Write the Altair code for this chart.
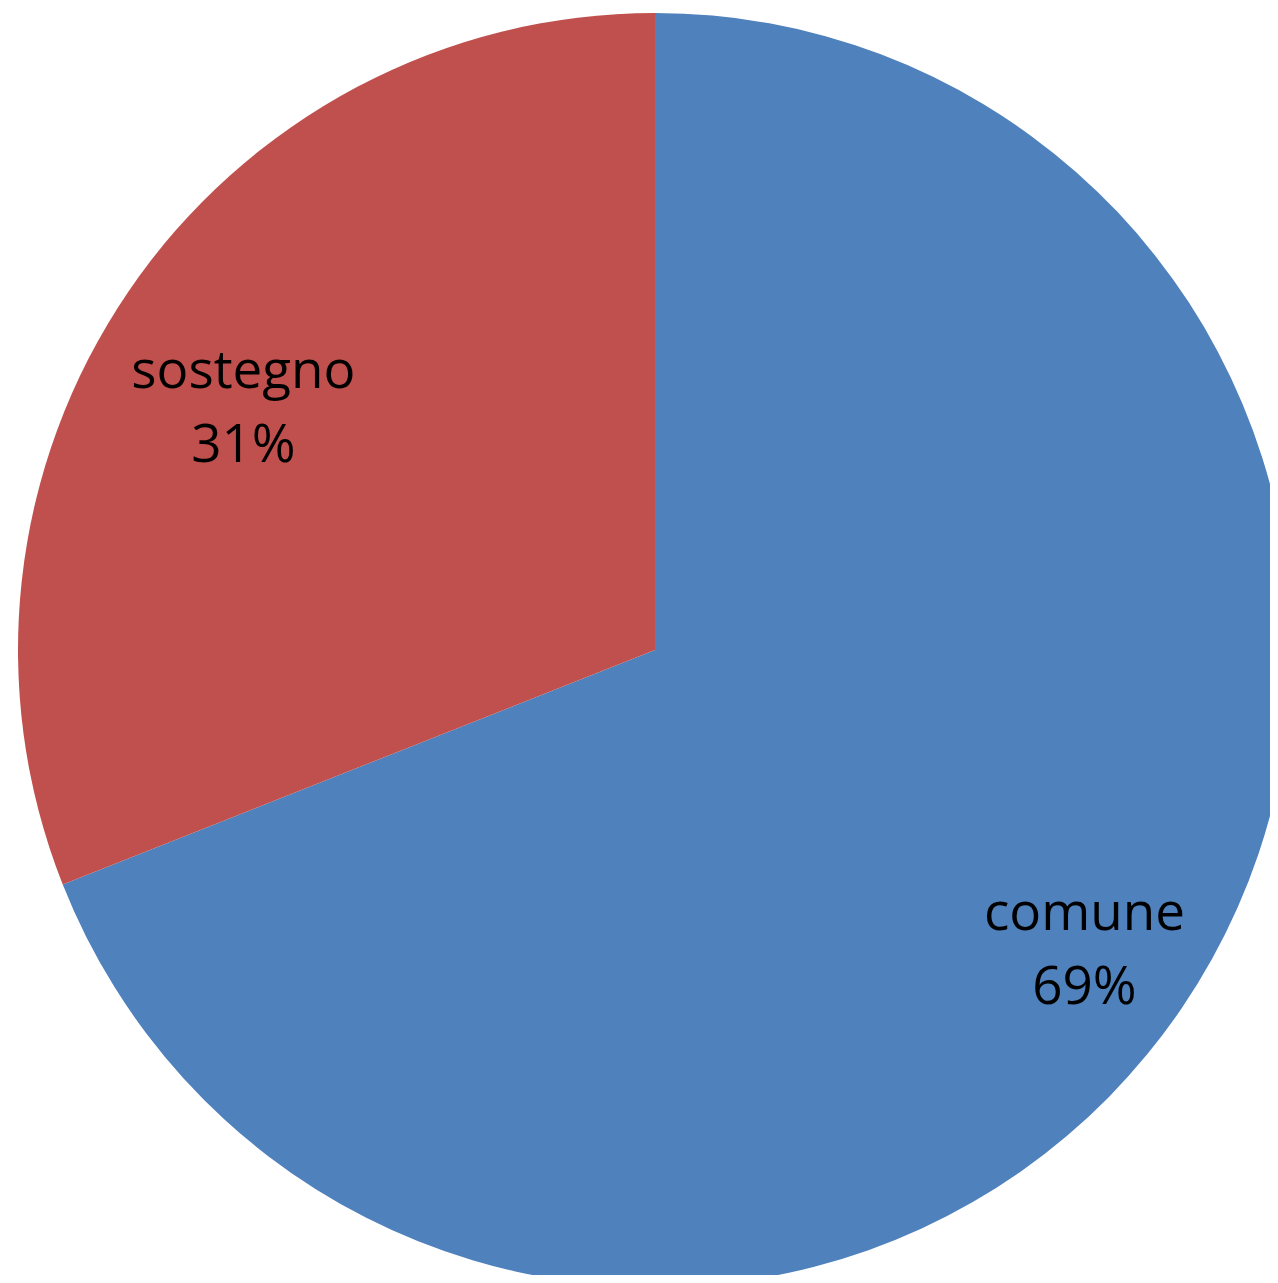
import altair as alt
import pandas as pd

categories = ["comune", "sostegno"]
values = [69, 31]
colors = ["#4F81BD", "#C0504D"]

df = pd.DataFrame({"categoria": categories, "valore": values, "ordine": [0, 1]})

CX, CY, R = 647, 642, 637

base = alt.Chart(df).encode(
    theta=alt.Theta("valore:Q", stack=True),
    order=alt.Order("ordine:Q"),
)

pie = base.mark_arc(x=CX, y=CY, outerRadius=R, stroke=None).encode(
    color=alt.Color("categoria:N", scale=alt.Scale(domain=categories, range=colors), legend=None),
)

def label(cat, rad, dx, dy):
    return base.transform_joinaggregate(
        tot="sum(valore)"
    ).transform_calculate(
        lab="datum.categoria + '\\n' + format(datum.valore / datum.tot, '.0%')"
    ).mark_text(
        x=CX, y=CY, radius=rad, dx=dx, dy=dy,
        font="Open Sans", fontSize=53, lineHeight=74, lineBreak="\n",
        align="center", baseline="alphabetic", color="#000000",
    ).encode(
        text="lab:N",
        opacity=alt.condition(f"datum.categoria == '{cat}'", alt.value(1), alt.value(0)),
    )

chart = alt.layer(
    pie,
    label("sostegno", 488, -8, 12),
    label("comune", 512, 6, -8),
).properties(
    width=1262, height=1267, autosize=alt.AutoSizeParams(type="none"), padding=0,
    background="white",
).configure_view(stroke=None)

chart.save("out.html", embed_options={"renderer": "svg", "actions": False})
